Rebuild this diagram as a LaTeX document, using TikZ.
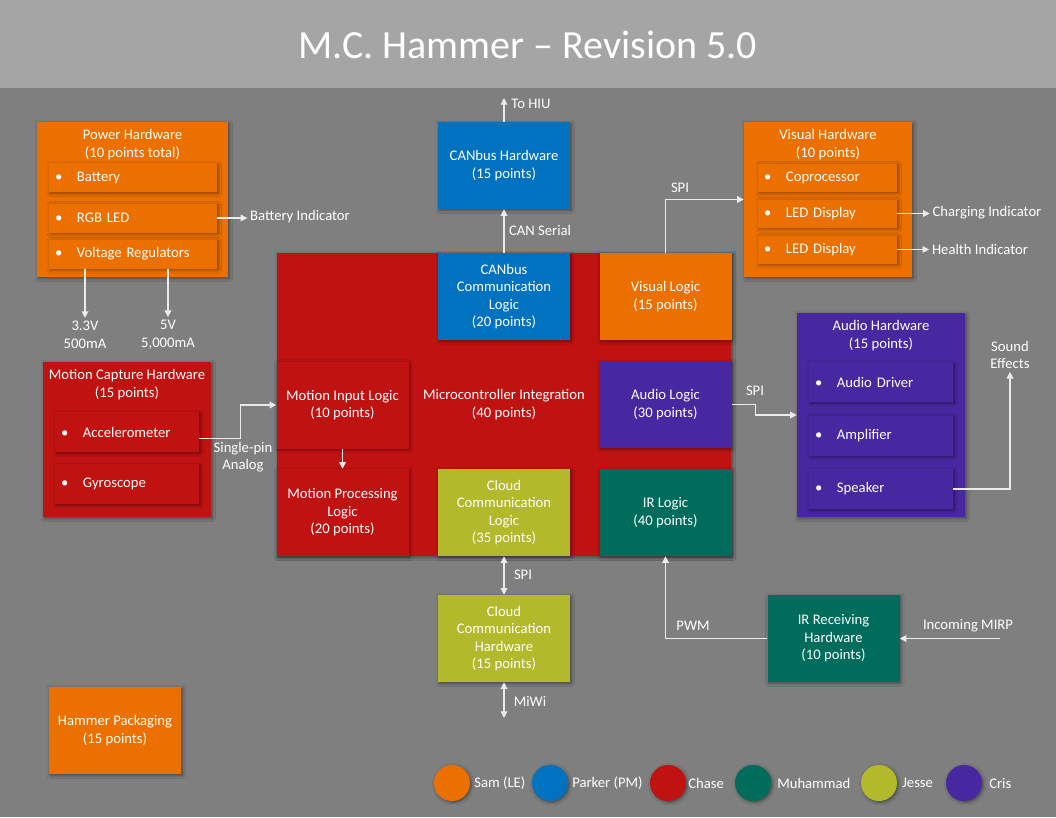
\documentclass[tikz,border=0pt]{standalone}
\usepackage{fontspec}
\setmainfont{Carlito}
\usepackage{tikz}
\usetikzlibrary{arrows.meta,shadows,shadows.blur}
\definecolor{BackGray}{RGB}{127,127,127}
\definecolor{TitleGray}{RGB}{165,165,165}
\definecolor{LineWhite}{RGB}{235,235,235}
\definecolor{SamOrange}{RGB}{236,112,0}
\definecolor{ParkerBlue}{RGB}{0,114,192}
\definecolor{ChaseRed}{RGB}{193,18,18}
\definecolor{MuhammadTeal}{RGB}{0,108,92}
\definecolor{JesseOlive}{RGB}{178,185,42}
\definecolor{CrisPurple}{RGB}{72,40,160}
\newcommand{\bul}[1]{\makebox[16.5pt][l]{\textbullet}#1}

\begin{document}
\begin{tikzpicture}[x=0.75pt,y=-0.75pt,>={Triangle[length=5pt,width=5pt]},
  txt/.style={text=white,font=\fontsize{11}{13.2}\selectfont,align=center,inner sep=2pt},
  blk/.style={txt,fill=#1,inner sep=0pt,blur shadow={shadow xshift=1pt,shadow yshift=-1pt,shadow blur radius=2.5pt,shadow blur steps=6,shadow opacity=45}},
  logic/.style={blk=#1,minimum width=99pt,minimum height=65.25pt},
  hw/.style={blk=#1,minimum width=126pt,minimum height=116.25pt},
  item/.style 2 args={blk=#1,text width=#2,inner xsep=4.5pt,align=left},
  arr/.style={->,draw=LineWhite,line width=0.9pt},
  both/.style={<->,draw=LineWhite,line width=0.9pt}]
  \useasboundingbox (0,0) rectangle (1056,817);
  \fill[BackGray] (0,0) rectangle (1056,817);
  \fill[TitleGray] (0,0) rectangle (1056,88);
  \node[txt,font=\fontsize{30}{36}\selectfont] (title) at (528,45) {M.C. Hammer \textendash\ Revision 5.0};

  % power
  \node[hw=SamOrange,minimum width=143.25pt] (power) at (132.5,199.5) {};
  \node[txt] at (132.5,144.5) {Power Hardware\\(10 points total)};
  \node[item={SamOrange}{117pt},minimum height=21.75pt] (battery) at (133,177.5) {\bul{Battery}};
  \node[item={SamOrange}{117pt},minimum height=21.75pt] (rgbled) at (133,218) {\bul{RGB LED}};
  \node[item={SamOrange}{117pt},minimum height=21.75pt] (vreg) at (133,254) {\bul{Voltage Regulators}};
  \node[txt] (battind) at (300,217) {Battery Indicator};
  \node[txt] (v33) at (85,334.5) {3.3V\\500mA};
  \node[txt] (v5) at (168,334.5) {5V\\5,000mA};
  \draw[arr] (rgbled.east) -- (rgbled.east -| battind.west);
  \draw[arr] (vreg.south -| v33) -- (v33.north);
  \draw[arr] (vreg.south -| v5) -- (v5.north);

  % motion capture
  \node[hw=ChaseRed] (mocap) at (127,439.5) {};
  \node[txt] at (127,384.5) {Motion Capture Hardware\\(15 points)};
  \node[item={ChaseRed}{99pt},minimum height=30pt] (accel) at (127,432) {\bul{Accelerometer}};
  \node[item={ChaseRed}{99pt},minimum height=30pt] (gyro) at (127,484) {\bul{Gyroscope}};

  % microcontroller
  \node[blk=ChaseRed,minimum width=340.5pt,minimum height=227.25pt] (micro) at (504,404.5) {Microcontroller Integration\\(40 points)};
  \node[logic=ParkerBlue] (cancomm) at (504,296.5) {CANbus\\Communication\\Logic\\(20 points)};
  \node[logic=SamOrange] (vislogic) at (665.5,296.5) {Visual Logic\\(15 points)};
  \node[logic=ChaseRed] (motionin) at (342.5,405) {Motion Input Logic\\(10 points)};
  \node[logic=ChaseRed] (motionproc) at (342.5,512.5) {Motion Processing\\Logic\\(20 points)};
  \node[logic=JesseOlive] (cloudlogic) at (504,512.5) {Cloud\\Communication\\Logic\\(35 points)};
  \node[logic=CrisPurple] (audiologic) at (665.5,404.5) {Audio Logic\\(30 points)};
  \node[logic=MuhammadTeal] (irlogic) at (665.5,512.5) {IR Logic\\(40 points)};

  \node[logic=ParkerBlue] (canhw) at (504,165.5) {CANbus Hardware\\(15 points)};
  \node[logic=JesseOlive] (cloudhw) at (504,638.5) {Cloud\\Communication\\Hardware\\(15 points)};
  \node[logic=MuhammadTeal] (irrx) at (833.5,638.5) {IR Receiving\\Hardware\\(10 points)};
  \node[logic=SamOrange] (packaging) at (115,730.5) {Hammer Packaging\\(15 points)};

  % visual hardware
  \node[hw=SamOrange] (vishw) at (828,199.5) {};
  \node[txt] at (828,144.5) {Visual Hardware\\(10 points)};
  \node[item={SamOrange}{95.25pt},minimum height=21pt] (coproc) at (827.5,177.5) {\bul{Coprocessor}};
  \node[item={SamOrange}{95.25pt},minimum height=21pt] (ledone) at (827.5,213.5) {\bul{LED Display}};
  \node[item={SamOrange}{95.25pt},minimum height=21pt] (ledtwo) at (827.5,249.5) {\bul{LED Display}};
  \node[txt] (charging) at (987,213) {Charging Indicator};
  \node[txt] (health) at (980,249) {Health Indicator};
  \draw[arr] (ledone.east) -- (ledone.east -| charging.west);
  \draw[arr] (ledtwo.east) -- (ledtwo.east -| health.west);

  % audio hardware
  \node[hw=CrisPurple,minimum height=153pt] (audiohw) at (881,415) {};
  \node[txt] at (881,335.5) {Audio Hardware\\(15 points)};
  \node[item={CrisPurple}{99pt},minimum height=30pt] (driver) at (881,382) {\bul{Audio Driver}};
  \node[item={CrisPurple}{99pt},minimum height=30pt] (amp) at (881,435.5) {\bul{Amplifier}};
  \node[item={CrisPurple}{99pt},minimum height=30pt] (speaker) at (881,489) {\bul{Speaker}};
  \node[txt] (sfx) at (1010,355) {Sound\\Effects};

  % connectors
  \coordinate (hiu) at (504,98);
  \coordinate (miwi) at (504,718);
  \coordinate (mirp) at (1000,638.5);
  \draw[arr] (cancomm.north) -- (canhw.south);
  \draw[arr] (canhw.north) -- (hiu);
  \node[txt] at (540,230) {CAN Serial};
  \node[txt] at (531,104) {To HIU};
  \draw[arr] (vislogic.north) |- (vishw.west);
  \node[txt] at (680,188) {SPI};
  \draw[arr] (audiologic.east) -- ++(24,0) |- (audiohw.west);
  \node[txt] at (755,391) {SPI};
  \draw[arr] (speaker.east) -| (sfx.south);
  \draw[arr] ([yshift=-5pt]accel.east) -- ++(41,0) |- (motionin.west);
  \node[txt] at (243,457) {Single-pin\\Analog};
  \draw[arr] (motionin.south) -- (motionproc.north);
  \draw[both] (cloudlogic.south) -- (cloudhw.north);
  \node[txt] at (523,575) {SPI};
  \draw[both] (cloudhw.south) -- (miwi);
  \node[txt] at (530,701) {MiWi};
  \draw[arr] (irrx.west) -| (irlogic.south);
  \node[txt] at (693,626) {PWM};
  \draw[arr] (mirp) -- (irrx.east);
  \node[txt] at (968,626) {Incoming MIRP};

  % legend
  \foreach \cx/\col/\who/\lx in {452/SamOrange/Sam (LE)/474,550/ParkerBlue/Parker (PM)/572,
      668/ChaseRed/Chase/688,753/MuhammadTeal/Muhammad/777,879/JesseOlive/Jesse/902,964/CrisPurple/Cris/989} {
    \node[circle,fill=\col,minimum size=27pt,inner sep=0pt,blur shadow={shadow xshift=1pt,shadow yshift=-1pt,shadow blur radius=2pt,shadow blur steps=5,shadow opacity=45}] (dot\col) at (\cx,783) {};
    \node[txt,anchor=west,inner sep=0pt] at (\lx,783) {\who};
  }
\end{tikzpicture}
\end{document}
